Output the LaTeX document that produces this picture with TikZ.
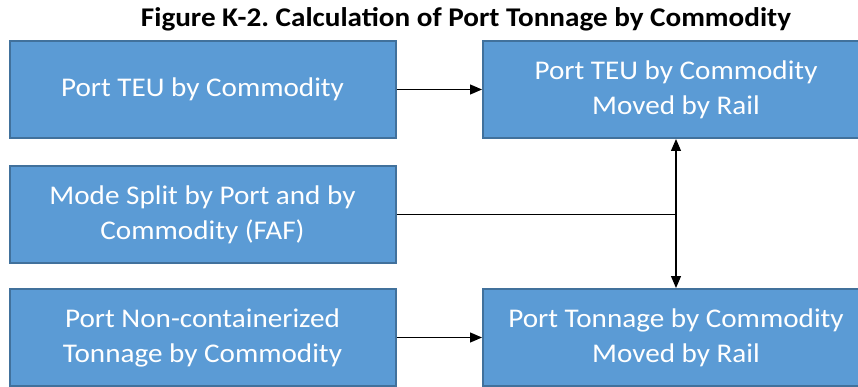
\documentclass[tikz,border=0pt]{standalone}
\usepackage{fontspec}
\setmainfont{Carlito}[FakeStretch=1.08]
\usetikzlibrary{arrows.meta}
\definecolor{boxblue}{HTML}{5B9BD5}
\definecolor{boxedge}{HTML}{41719C}
\frenchspacing
\begin{document}
\begin{tikzpicture}[x=1pt, y=-1pt,
        stepbox/.style={draw=boxedge, line width=2pt, fill=boxblue, text=white,
          minimum width=386pt, minimum height=97pt, align=center,
          font=\fontsize{27}{35}\selectfont},
        link/.style={line width=1.2pt, -{Triangle[length=12pt,width=10pt]}}]
        \useasboundingbox (0,0) rectangle (858,387);
        \node [font=\bfseries\fontsize{27}{30}\selectfont, anchor=base] (title) at (466,27) {Figure K-2. Calculation of Port Tonnage by Commodity};

        \node [stepbox] (1) at (202.5,89.5) {Port TEU by Commodity};
        \node [stepbox] (2) at (676,89.5) {Port TEU by Commodity\\Moved by Rail};
        \node [stepbox] (3) at (202.5,214.5) {Mode Split by Port and by\\Commodity (FAF)};
        \node [stepbox] (4) at (202.5,337.5) {Port Non-containerized\\Tonnage by Commodity};
        \node [stepbox] (5) at (676,337.5) {Port Tonnage by Commodity\\Moved by Rail};

        \draw[link] (1) -- (2);
        \draw[link] (4) -- (5);
        \draw[link, {Triangle[length=12pt,width=10pt]}-{Triangle[length=12pt,width=10pt]}] (2) -- (5);
        \draw[line width=1.2pt] (3.east) -- (3.east -| 2.south);
      \end{tikzpicture}
\end{document}
